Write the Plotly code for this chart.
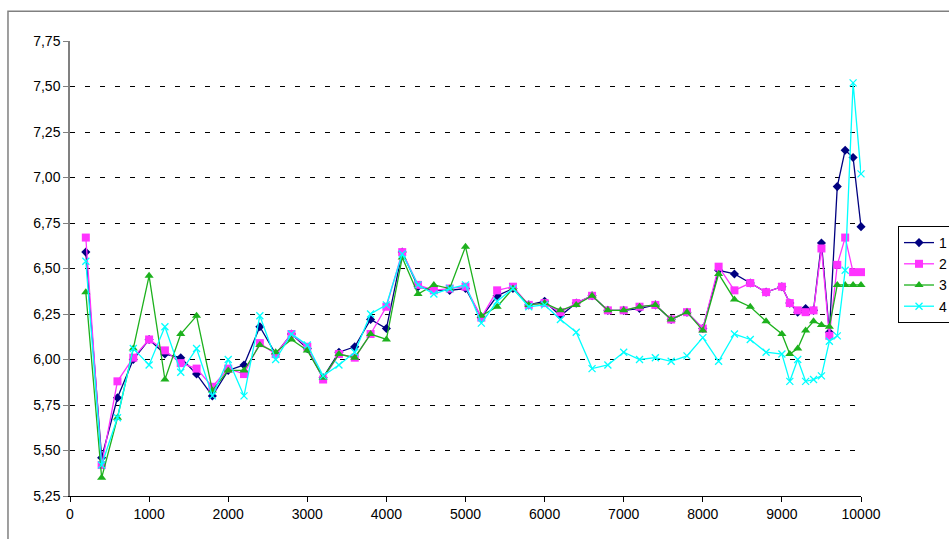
import plotly.graph_objects as go

x_vals = [200, 400, 600, 800, 1000, 1200, 1400, 1600, 1800, 2000,
          2200, 2400, 2600, 2800, 3000, 3200, 3400, 3600, 3800, 4000,
          4200, 4400, 4600, 4800, 5000, 5200, 5400, 5600, 5800, 6000,
          6200, 6400, 6600, 6800, 7000, 7200, 7400, 7600, 7800, 8000,
          8200, 8400, 8600, 8800, 9000, 9100, 9200, 9300, 9400, 9500,
          9600, 9700, 9800, 9900, 10000]

series_1 = [6.59, 5.46, 5.79, 6.00, 6.11, 6.03, 6.01, 5.92, 5.80, 5.94,
            5.97, 6.18, 6.03, 6.14, 6.06, 5.90, 6.04, 6.07, 6.22, 6.17,
            6.59, 6.40, 6.38, 6.38, 6.39, 6.23, 6.35, 6.39, 6.30, 6.32,
            6.24, 6.31, 6.35, 6.27, 6.27, 6.28, 6.30, 6.22, 6.26, 6.17,
            6.49, 6.47, 6.42, 6.37, 6.40, 6.31, 6.26, 6.28, 6.27, 6.64,
            6.15, 6.95, 7.15, 7.11, 6.73]

series_2 = [6.67, 5.42, 5.88, 6.01, 6.11, 6.05, 5.98, 5.95, 5.85, 5.95,
            5.92, 6.09, 6.03, 6.14, 6.07, 5.89, 6.03, 6.01, 6.14, 6.29,
            6.59, 6.41, 6.38, 6.39, 6.40, 6.23, 6.38, 6.40, 6.30, 6.31,
            6.26, 6.31, 6.35, 6.27, 6.27, 6.29, 6.30, 6.22, 6.26, 6.17,
            6.51, 6.38, 6.42, 6.37, 6.40, 6.31, 6.27, 6.26, 6.27, 6.61,
            6.13, 6.52, 6.67, 6.48, 6.48]

series_3 = [6.37, 5.35, 5.68, 6.06, 6.46, 5.89, 6.14, 6.24, 5.83, 5.94,
            5.94, 6.08, 6.04, 6.11, 6.05, 5.90, 6.03, 6.01, 6.14, 6.11,
            6.56, 6.36, 6.41, 6.39, 6.62, 6.24, 6.29, 6.39, 6.30, 6.31,
            6.27, 6.30, 6.35, 6.27, 6.27, 6.29, 6.30, 6.22, 6.26, 6.16,
            6.47, 6.33, 6.29, 6.21, 6.14, 6.03, 6.06, 6.16, 6.21, 6.19,
            6.18, 6.41, 6.41, 6.41, 6.41]

series_4 = [6.54, 5.42, 5.68, 6.06, 5.97, 6.18, 5.93, 6.06, 5.80, 6.00,
            5.80, 6.24, 6.00, 6.14, 6.08, 5.91, 5.97, 6.04, 6.25, 6.30,
            6.58, 6.41, 6.36, 6.39, 6.41, 6.20, 6.32, 6.39, 6.29, 6.30,
            6.22, 6.15, 5.95, 5.97, 6.04, 6.00, 6.01, 5.99, 6.02, 6.12,
            5.99, 6.14, 6.11, 6.04, 6.03, 5.88, 6.00, 5.88, 5.89, 5.91,
            6.10, 6.13, 6.49, 7.52, 7.02]

series_names = ["1", "2", "3", "4"]
series_colors = ["#000080", "#FF33FF", "#1DB11D", "#00FFFF"]
series_symbols = ["diamond", "square", "triangle-up", "x-thin"]
series_sizes = [7, 8, 8, 7]

FONT = "Liberation Sans, Arial, sans-serif"

fig = go.Figure()
for name, ys, col, sym, sz in zip(series_names,
                                  [series_1, series_2, series_3, series_4],
                                  series_colors, series_symbols, series_sizes):
    fig.add_trace(go.Scatter(
        x=x_vals, y=ys, name=name, mode="lines+markers",
        line=dict(color=col, width=1.3),
        marker=dict(symbol=sym, size=sz, color=col,
                    line=dict(color=col, width=1.3 if sym == "x-thin" else 0)),
        cliponaxis=False,
    ))

fig.update_layout(
    width=965, height=539,
    paper_bgcolor="white", plot_bgcolor="white",
    separators=",.",
    font=dict(family=FONT, size=14, color="black"),
    margin=dict(l=70, r=104, t=41, b=43, autoexpand=False),
    showlegend=True,
    legend=dict(x=1.0468, xanchor="left", y=0.5934, yanchor="top",
                bordercolor="black", borderwidth=1, bgcolor="white",
                font=dict(family=FONT, size=14, color="black"),
                tracegroupgap=0, itemwidth=30),
    xaxis=dict(range=[0, 10000], tick0=0, dtick=1000, tickformat="d",
               showgrid=False, zeroline=False,
               showline=True, linecolor="black", linewidth=1,
               ticks="outside", ticklen=5, tickcolor="black",
               tickfont=dict(family=FONT, size=14)),
    yaxis=dict(range=[5.25, 7.75], tick0=5.25, dtick=0.25, tickformat=".2f",
               showgrid=True, gridcolor="black", gridwidth=1,
               griddash="5px,10px", zeroline=False,
               showline=True, linecolor="#808080", linewidth=1.5,
               ticks="outside", ticklen=5, tickcolor="#808080",
               tickfont=dict(family=FONT, size=14)),
    shapes=[dict(type="rect", xref="paper", yref="paper",
                 x0=-0.0784, x1=1.3, y0=-0.3, y1=1.0653,
                 line=dict(color="#808080", width=1.5), layer="below")],
)

fig.write_html(
    "out.html",
    config={"displayModeBar": False},
    post_script=("document.body.style.margin='0';"
                 "document.documentElement.style.overflow='hidden';"
                 "document.body.style.overflow='hidden';"),
)
